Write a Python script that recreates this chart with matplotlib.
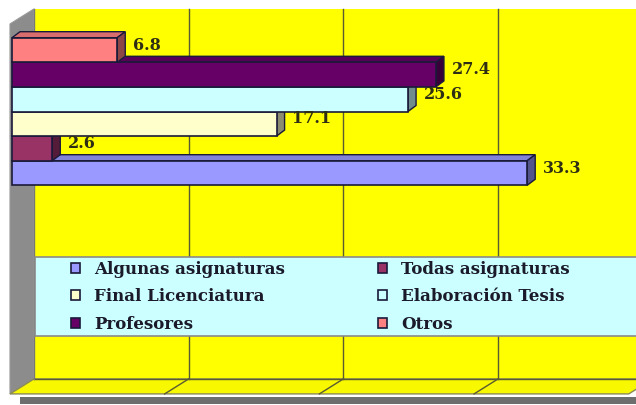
import numpy as np
import matplotlib.pyplot as plt
from matplotlib.patches import Polygon, Rectangle, Patch

series = ["Algunas asignaturas", "Todas asignaturas", "Final Licenciatura",
          "Elaboración Tesis", "Profesores", "Otros"]
values = [33.3, 2.6, 17.1, 25.6, 27.4, 6.8]
colors = ["#9999ff", "#993366", "#ffffcc", "#ccffff", "#660066", "#ff8080"]
x_ticks = [0, 10, 20, 30, 40]

# projection helpers (data units)
bx, by = 0.52, 0.244      # bar depth
wx, wy = 1.55, 0.61       # wall depth
f0 = -0.13                # front plane origin shift
y_top, y_floor = 6.06, -8.98

fig = plt.figure(figsize=(6.36, 4.05), dpi=100)
ax = fig.add_axes([0, 0, 1, 1])
ax.set_xlim(-12 / 15.47, (636 - 12) / 15.47)
ax.set_ylim((173 - 405) / 24.6, 173 / 24.6)
ax.axis("off")

xmax = x_ticks[-1]
grid_c = "#5a5a33"

# shadow under floor
ax.add_patch(Polygon([(0.5, y_floor - 0.12), (xmax + 2, y_floor - 0.12),
                      (xmax + 2, y_floor - 0.42), (0.5, y_floor - 0.42)],
                     closed=True, fc="#6e6e6e", ec="none", zorder=0))
# left wall
ax.add_patch(Polygon([(f0, y_floor), (f0 + wx, y_floor + wy), (f0 + wx, y_top + wy),
                      (f0, y_top)], closed=True, fc="#8c8c8c", ec="#9a9a9a",
                     lw=0.8, zorder=1))
# back wall
ax.add_patch(Rectangle((f0 + wx, y_floor + wy), xmax + 5, y_top - y_floor,
                       fc="#ffff00", ec="none", zorder=1))
# floor
ax.add_patch(Polygon([(f0, y_floor), (xmax + f0, y_floor), (xmax + f0 + wx, y_floor + wy),
                      (f0 + wx, y_floor + wy)], closed=True, fc="#f8f800",
                     ec="#8a8a55", lw=1.0, zorder=1))
ax.plot([f0 + wx, xmax + 5], [y_floor + wy, y_floor + wy], color=grid_c, lw=1.0, zorder=2)
ax.plot([f0 + wx, f0 + wx], [y_floor + wy, y_top + wy], color="#777777", lw=1.0, zorder=2)
for t in x_ticks[1:-1]:
    ax.plot([t + f0 + wx, t + f0 + wx], [y_floor + wy, y_top + wy], color=grid_c, lw=1.0, zorder=2)
    ax.plot([t + f0, t + f0 + wx], [y_floor, y_floor + wy], color=grid_c, lw=1.0, zorder=2)

# legend band on the back wall
ax.add_patch(Rectangle((1.49, (173 - 336) / 24.6), xmax + 5, (336 - 257) / 24.6,
                       fc="#ccffff", ec="#8a8a8a", lw=1.2, zorder=3))

# bars
edge = "#1a1a3a"
for i, (v, c) in enumerate(zip(values, colors)):
    base = np.array(plt.matplotlib.colors.to_rgb(c))
    z = 10 + i
    lo, hi = i - 0.5, i + 0.5
    ax.add_patch(Polygon([(0, hi), (v, hi), (v + bx, hi + by), (bx, hi + by)],
                         closed=True, fc=base * 0.85, ec=edge, lw=1.0, zorder=z))
    ax.add_patch(Polygon([(v, lo), (v + bx, lo + by), (v + bx, hi + by), (v, hi)],
                         closed=True, fc=base * 0.55, ec=edge, lw=1.0, zorder=z))
    ax.barh(i, v, height=1.0, left=0, color=c, edgecolor=edge, lw=1.2, zorder=z)
    ax.text(v + bx + 0.5, i + 0.2, f"{v:.1f}", ha="left", va="center",
            fontsize=11.5, fontweight="bold", family="DejaVu Serif",
            color="#2e2e14", zorder=20)

# legend: two columns
handles = [Patch(fc=c, ec="#1a1a3a", lw=1.2) for c in colors]
col1 = [0, 2, 4]
col2 = [1, 3, 5]
kw = dict(loc="upper left", frameon=False, borderpad=0, borderaxespad=0,
          handlelength=0.55, handleheight=0.55, handletextpad=0.85, labelspacing=0.62,
          prop={"family": "DejaVu Serif", "weight": "bold", "size": 12},
          labelcolor="#1a1a2a")
leg1 = ax.legend([handles[k] for k in col1], [series[k] for k in col1],
                 bbox_to_anchor=(71 / 636, 1 - 261 / 405), **kw)
leg1.set_zorder(25)
ax.add_artist(leg1)
leg2 = ax.legend([handles[k] for k in col2], [series[k] for k in col2],
                 bbox_to_anchor=(378 / 636, 1 - 261 / 405), **kw)
leg2.set_zorder(25)

fig.savefig("out.png", dpi=100, facecolor="white")
